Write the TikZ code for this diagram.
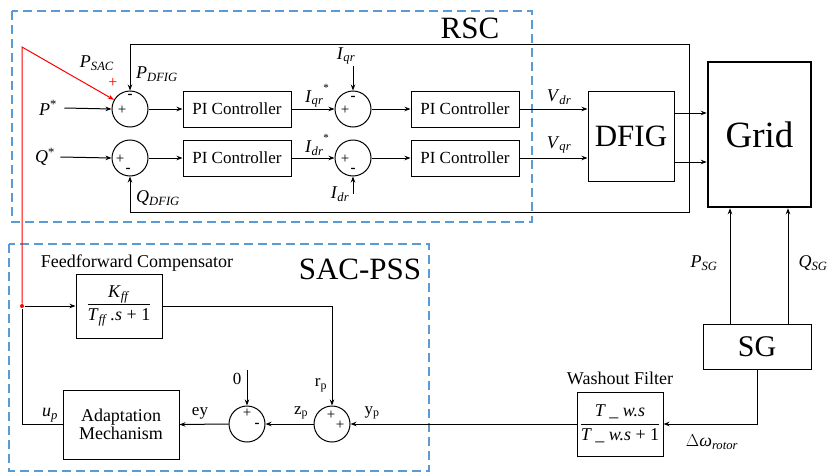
\documentclass[tikz,border=0pt]{standalone}
\usepackage{fontspec}
\setmainfont{Liberation Serif}
\usetikzlibrary{arrows.meta}
\definecolor{boxblue}{RGB}{91,155,213}
\newcommand\vsub[2]{\textit{#1}\textsubscript{\textit{#2}}}
\newcommand\fs[1]{\fontsize{#1}{#1}\selectfont}
\begin{document}
\begin{tikzpicture}[x=1pt,y=-1pt,line width=1pt,
  >={Stealth[length=6pt,width=4.5pt]},
  blk/.style={draw,rectangle,inner sep=0pt},
  sumc/.style={draw,circle,minimum size=36pt,inner sep=0pt},
  lbl/.style={font=\fs{18},inner sep=1pt},
  sgn/.style={font=\fs{15},inner sep=0pt},
  dbox/.style={draw=boxblue,dash pattern=on 9pt off 5pt,line width=1.2pt},
  pic/.style={blk,minimum width=108pt,minimum height=36pt,font=\fs{17}}]
\useasboundingbox (0,0) rectangle (828,474);
% dashed regions
\draw[dbox] (12,11) rectangle (532,222);
\draw[dbox] (9,244) rectangle (429,471);
\node[font=\fs{31}] (rsc) at (470,28) {RSC};
\node[font=\fs{31}] (sac) at (360,269) {SAC-PSS};
% sums
\node[sumc] (s1) at (130,109) {};
\node[sumc] (s2) at (130,158) {};
\node[sumc] (s3) at (353,109) {};
\node[sumc] (s4) at (353,158) {};
\node[sumc] (s5) at (332,424) {};
\node[sumc] (s6) at (247,424) {};
% blocks
\node[pic] (pi1) at (237,109) {PI Controller};
\node[pic] (pi2) at (237,158) {PI Controller};
\node[pic] (pi3) at (465,109) {PI Controller};
\node[pic] (pi4) at (465,158) {PI Controller};
\node[blk,minimum width=86pt,minimum height=90pt,font=\fs{31}] (dfig) at (631,136) {DFIG};
\node[blk,minimum width=103pt,minimum height=145pt,line width=2.5pt,font=\fs{37}] (grid) at (759.5,134.5) {Grid};
\node[blk,minimum width=108pt,minimum height=45pt,font=\fs{30}] (sg) at (757,346.5) {SG};
\node[blk,minimum width=86pt,minimum height=64pt,font=\fs{18}] (wash) at (620,424)
  {$\displaystyle\frac{\mbox{\textit{T \_ w.s}}}{\mbox{\textit{T \_ w.s} + 1}}$};
\node[blk,minimum width=86pt,minimum height=64pt,font=\fs{18}] (ff) at (119,306)
  {$\displaystyle\frac{\mbox{\vsub{K}{ff}}}{\mbox{\vsub{T}{ff}\,\textit{.s} + 1}}$};
\node[blk,minimum width=116pt,minimum height=69pt,font=\fs{18},align=center] (adapt) at (121,424.5) {Adaptation\\Mechanism};
% inputs
\node[lbl] (pstar) at (48,108) {\textit{P}\textsuperscript{*}};
\node[lbl] (qstar) at (45,157) {\textit{Q}\textsuperscript{*}};
\draw[->] (pstar.east) ++(6,0) -- (s1.west);
\draw[->] (qstar.east) ++(4,0) -- (s2.west);
% forward paths
\draw[->] (s1.east) -- (pi1.west);
\draw[->] (s2.east) -- (pi2.west);
\draw[->] (pi1.east) -- (s3.west);
\draw[->] (pi2.east) -- (s4.west);
\draw[->] (s3.east) -- (pi3.west);
\draw[->] (s4.east) -- (pi4.west);
\draw[->] (pi3.east) -- (pi3.east -| dfig.west);
\draw[->] (pi4.east) -- (pi4.east -| dfig.west);
\coordinate (d1) at ([yshift=23pt]dfig.east);
\coordinate (d2) at ([yshift=-26pt]dfig.east);
\draw[->] (d1) -- (d1 -| grid.west);
\draw[->] (d2) -- (d2 -| grid.west);
% feedback loop
\coordinate (fbTR) at (689,44);
\coordinate (fbBR) at (689,212);
\draw[->] (fbTR) -- (fbTR -| s1) -- (s1.north);
\draw[->] (fbTR) -- (fbBR) -- (fbBR -| s2) -- (s2.south);
% current inputs
\coordinate (iq) at (353,66);
\coordinate (id) at (353,194);
\draw[->] (iq) -- (s3.north);
\draw[->] (id) -- (s4.south);
% SG connections
\coordinate (psg) at (730,324);
\coordinate (qsg) at (788,324);
\draw[->] (psg) -- (psg |- grid.south);
\draw[->] (qsg) -- (qsg |- grid.south);
\draw[->] (sg.south) |- (wash.east);
% SAC-PSS
\node[circle,fill=red,inner sep=0pt,minimum size=4pt] (jn) at (22,306) {};
\coordinate (rtop) at (22,47);
\draw[red,->] (jn) -- (rtop) -- (s1);
\draw (adapt.west) -| (jn);
\draw[->] (jn) -- (ff.west);
\draw[->] (ff.east) -| (s5.north);
\draw[->] (wash.west) -- (s5.east);
\draw[->] (s5.west) -- (s6.east);
\coordinate (z0) at (247,370);
\draw[->] (z0) -- (s6.north);
\draw[->] (s6.west) -- (adapt.east);
% signs
\node[sgn] (g1a) at (130,96) {\textbf{-}};
\node[sgn] (g1b) at (122,110) {+};
\node[sgn] (g2a) at (120,159) {+};
\node[sgn] (g2b) at (128,170) {\textbf{-}};
\node[sgn] (g3a) at (353,98) {\textbf{-}};
\node[sgn] (g3b) at (345,110) {+};
\node[sgn] (g4a) at (345,159) {+};
\node[sgn] (g4b) at (353,170) {\textbf{-}};
\node[sgn] (g5a) at (331,415) {+};
\node[sgn] (g5b) at (340,425) {+};
\node[sgn] (g6a) at (247,413) {+};
\node[sgn] (g6b) at (257,425) {\textbf{-}};
\node[sgn,text=red,font=\fs{16}] (rp) at (113,83) {+};
% labels
\node[lbl] (lpsac) at (97,63) {\vsub{P}{SAC}};
\node[lbl] (lpdfig) at (157,74) {\vsub{P}{DFIG}};
\node[lbl] (lqdfig) at (158,198) {\vsub{Q}{DFIG}};
\node[lbl] (liqs) at (317,96) {\vsub{I}{qr}\raisebox{1.3ex}{\fs{11}*}};
\node[lbl] (lids) at (317,145) {\vsub{I}{dr}\raisebox{1.3ex}{\fs{11}*}};
\node[lbl] (liq) at (346,56) {\vsub{I}{qr}};
\node[lbl] (lid) at (340,194) {\vsub{I}{dr}};
\node[lbl] (lvd) at (559,97) {\vsub{V}{dr}};
\node[lbl] (lvq) at (559,145) {\vsub{V}{qr}};
\node[lbl] (lpsg) at (704,263) {\vsub{P}{SG}};
\node[lbl] (lqsg) at (813,263) {\vsub{Q}{SG}};
\node[lbl] (ldw) at (712,442) {$\Delta$\vsub{\char"03C9}{rotor}};
\node[lbl] (lup) at (50,415) {\vsub{u}{p}};
\node[lbl,font=\fs{17}] (ley) at (200,413) {ey};
\node[lbl,font=\fs{17}] (lzp) at (301,413) {z\textsubscript{p}};
\node[lbl,font=\fs{17}] (lyp) at (372,413) {y\textsubscript{p}};
\node[lbl,font=\fs{17}] (lrp) at (321,385) {r\textsubscript{p}};
\node[lbl,font=\fs{17}] (lzero) at (237,379) {0};
\node[lbl] (lff) at (137,263) {Feedforward Compensator};
\node[lbl] (lwf) at (620,378) {Washout Filter};
\end{tikzpicture}
\end{document}
